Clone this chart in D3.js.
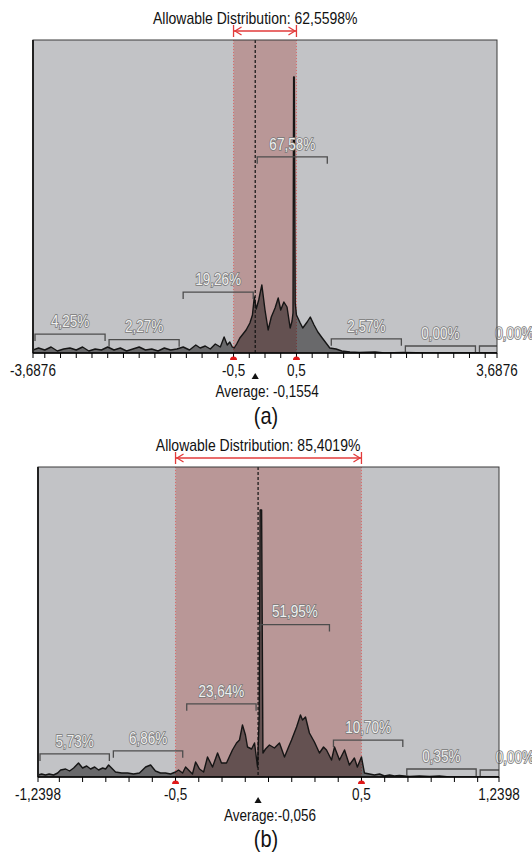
<!DOCTYPE html>
<meta charset="utf-8">
<style>
body {margin: 0; background: #fff;}
svg text {font-family: "Liberation Sans", Arial, sans-serif; fill: #111;}
.binlabel {fill: #efefef; stroke: #777; stroke-width: 1.4px; paint-order: stroke;}
</style>
<html>
<body>
<script src="https://d3js.org/d3.v7.min.js"></script>
<script>
var width = 532,
    height = 852;

// ---- panel (a) data ----
var allowA = "62,5598%";
var rangeA = [-3.6876, 3.6876];
var avgA = -0.1554;
var avgLabelA = "Average: -0,1554";
var limitsA = [-0.5, 0.5];
var tickValsA = [-3.6876, -0.5, 0.5, 3.6876];
var tickLabelsA = ["-3,6876", "-0,5", "0,5", "3,6876"];
var binPctA = [4.25, 2.27, 19.26, 67.58, 2.57, 0.00, 0.00];
var histXA = [-3.6876, -3.6, -3.5, -3.4, -3.3, -3.2, -3.1, -3.0, -2.9, -2.8,
  -2.7, -2.6, -2.5, -2.4, -2.3, -2.2, -2.1, -2.0, -1.9, -1.8,
  -1.7, -1.6, -1.5, -1.4, -1.3, -1.2, -1.1, -1.03, -0.95, -0.87,
  -0.79, -0.71, -0.65, -0.6, -0.56, -0.52, -0.49, -0.45, -0.4, -0.35,
  -0.3, -0.24, -0.2, -0.17, -0.14, -0.1, -0.05, 0, 0.05, 0.1,
  0.16, 0.21, 0.25, 0.3, 0.35, 0.4, 0.43, 0.445, 0.455, 0.465,
  0.48, 0.5, 0.56, 0.6, 0.67, 0.72, 0.78, 0.84, 0.91, 0.97,
  1.03, 1.13, 1.22, 1.35, 1.5, 1.75, 1.9, 2.2, 2.6, 3.0, 3.6876];
var histYA = [3, 5, 3, 6, 2, 4, 5, 3, 6, 2,
  4, 3, 6, 3, 5, 2, 4, 6, 3, 4,
  2, 5, 3, 4, 6, 3, 8, 5, 7, 4,
  9, 6, 16, 8, 11, 6, 5, 9, 15, 19,
  23, 30, 38, 56, 44, 53, 68, 43, 23, 36,
  45, 55, 43, 51, 46, 25, 32, 40, 276, 276,
  50, 38, 30, 25, 31, 36, 28, 21, 15, 10,
  5, 4, 2, 1, 0.5, 1, 0, 0.5, 0, 0, 0];

// ---- panel (b) data ----
var allowB = "85,4019%";
var rangeB = [-1.2398, 1.2398];
var avgB = -0.056;
var avgLabelB = "Average:-0,056";
var limitsB = [-0.5, 0.5];
var tickValsB = [-1.2398, -0.5, 0.5, 1.2398];
var tickLabelsB = ["-1,2398", "-0,5", "0,5", "1,2398"];
var binPctB = [5.73, 6.86, 23.64, 51.95, 10.70, 0.35, 0.00];
var histXB = [-1.2398, -1.22, -1.2, -1.18, -1.156, -1.134, -1.118, -1.091, -1.07, -1.048,
  -1.022, -1.0, -0.978, -0.957, -0.935, -0.914, -0.892, -0.876, -0.86, -0.844,
  -0.823, -0.79, -0.758, -0.726, -0.694, -0.661, -0.634, -0.608, -0.581, -0.554,
  -0.527, -0.5, -0.484, -0.462, -0.446, -0.425, -0.409, -0.392, -0.371, -0.349,
  -0.328, -0.301, -0.274, -0.253, -0.226, -0.194, -0.172, -0.156, -0.14, -0.124,
  -0.113, -0.091, -0.075, -0.059, -0.05, -0.045, -0.037, -0.03, -0.016, 0.005,
  0.032, 0.059, 0.086, 0.108, 0.124, 0.151, 0.172, 0.183, 0.199, 0.22,
  0.247, 0.274, 0.296, 0.312, 0.339, 0.355, 0.382, 0.409, 0.435, 0.462,
  0.478, 0.5, 0.516, 0.543, 0.57, 0.597, 0.624, 0.651, 0.677, 0.704,
  0.758, 0.812, 0.866, 0.919, 0.973, 1.2398];
var histYB = [2, 3, 2, 3, 2, 4, 7, 8, 6, 9,
  14, 9, 11, 8, 10, 7, 9, 8, 12, 9,
  5, 4, 4, 3, 4, 10, 12, 6, 4, 4,
  3, 5, 7, 4, 10, 6, 3, 15, 8, 5,
  20, 10, 24, 14, 14, 27, 34, 37, 52, 42,
  30, 28, 34, 10, 60, 267, 267, 24, 28, 32,
  29, 34, 20, 30, 37, 50, 62, 57, 60, 44,
  35, 24, 30, 27, 17, 30, 17, 27, 12, 19,
  10, 20, 4, 3, 2, 3, 1, 2, 1, 1.5,
  0.5, 1, 0.5, 1, 0, 0];

var svg = d3.select("body").append("svg")
    .attr("width", width)
    .attr("height", height);

var fmtPct = function(v) { return d3.format(".2f")(v).replace(".", ",") + "%"; };

// text is slightly stretched vertically in the original screenshot
function txt(g, x, y, s, size, cls) {
  return g.append("text")
      .attr("class", cls || null)
      .attr("transform", "translate(" + x + "," + y + ") scale(1,1.2)")
      .attr("text-anchor", "middle")
      .attr("dy", "0.36em")
      .style("font-size", size + "px")
      .text(s);
}

function drawPanel(p) {
  var g = svg.append("g");
  var x = d3.scaleLinear().domain(p.range).range([p.left, p.right]);
  var y = d3.scaleLinear().domain([0, p.base - p.top]).range([p.base, p.top]);
  var pctY = d3.scaleLinear().domain([0, 100]).range([p.base - 7, p.base - 287]);

  g.append("clipPath").attr("id", p.id)
    .append("rect")
      .attr("x", p.left).attr("y", p.top)
      .attr("width", p.right - p.left).attr("height", p.base - p.top);

  // background + allowable band
  g.append("rect")
      .attr("x", p.left).attr("y", p.top)
      .attr("width", p.right - p.left).attr("height", p.base - p.top)
      .attr("fill", "#c2c3c6");
  g.append("rect")
      .attr("x", x(p.limits[0])).attr("y", p.top)
      .attr("width", x(p.limits[1]) - x(p.limits[0])).attr("height", p.base - p.top)
      .attr("fill", "#b99797");
  g.selectAll(".edge").data(p.limits).enter().append("line")
      .attr("x1", function(d) { return x(d); }).attr("x2", function(d) { return x(d); })
      .attr("y1", p.top).attr("y2", p.base)
      .attr("stroke", "#d96a6a").attr("stroke-width", 1)
      .attr("stroke-dasharray", "1,2");

  // histogram
  var pts = p.histX.map(function(v, i) { return [v, p.histY[i]]; });
  var hg = g.append("g").attr("clip-path", "url(#" + p.id + ")");
  hg.append("path")
      .attr("d", d3.area().x(function(d) { return x(d[0]); }).y0(p.base).y1(function(d) { return y(d[1]); })(pts))
      .attr("fill", "#000").attr("fill-opacity", 0.46);
  hg.append("path")
      .attr("d", d3.line().x(function(d) { return x(d[0]); }).y(function(d) { return y(d[1]); })(pts))
      .attr("fill", "none").attr("stroke", "#151515").attr("stroke-width", 1.4)
      .attr("stroke-linejoin", "round");

  // average line
  g.append("line")
      .attr("x1", x(p.avg)).attr("x2", x(p.avg))
      .attr("y1", p.top).attr("y2", p.base)
      .attr("stroke", "#111").attr("stroke-width", 1.2)
      .attr("stroke-dasharray", "3,2");

  // percentage brackets, one per std step from the average
  var step = (p.avg - p.range[0]) / 3;
  var bins = p.binPct.map(function(v, i) {
    return {pct: v, a: p.avg + (i - 3) * step, b: p.avg + (i - 2) * step};
  });
  var bg = g.append("g").attr("clip-path", "url(#" + p.id + ")");
  bins.forEach(function(d) {
    var x0 = x(d.a) + 2, x1 = x(d.b) - 2, yy = pctY(d.pct);
    bg.append("path")
        .attr("d", "M" + x0 + "," + (yy + 7) + "V" + yy + "H" + x1 + "V" + (yy + 7))
        .attr("fill", "none").attr("stroke", "#4d4d4d").attr("stroke-width", 1.3);
  });
  bins.forEach(function(d) {
    txt(g, (x(d.a) + x(d.b)) / 2, pctY(d.pct) - 13, fmtPct(d.pct), 13.5, "binlabel");
  });

  // frame
  g.append("rect")
      .attr("x", p.left).attr("y", p.top)
      .attr("width", p.right - p.left).attr("height", p.base - p.top)
      .attr("fill", "none").attr("stroke", "#3a3a3a").attr("stroke-width", 1);
  g.append("line")
      .attr("x1", p.left).attr("x2", p.left).attr("y1", p.top).attr("y2", p.base)
      .attr("stroke", "#222").attr("stroke-width", 2);

  // axis
  var ticks = d3.range(Math.ceil(p.range[0] / p.tickStep) * p.tickStep, p.range[1], p.tickStep)
      .concat(p.range);
  g.append("line")
      .attr("x1", p.left).attr("x2", p.right).attr("y1", p.base).attr("y2", p.base)
      .attr("stroke", "#000").attr("stroke-width", 1.5);
  g.selectAll(".tk").data(ticks).enter().append("line")
      .attr("x1", function(d) { return x(d); }).attr("x2", function(d) { return x(d); })
      .attr("y1", p.base).attr("y2", p.base + 5)
      .attr("stroke", "#000").attr("stroke-width", 1);
  p.tickVals.forEach(function(v, i) {
    txt(g, x(v), p.base + 17, p.tickLabels[i], 13.5);
  });
  p.limits.forEach(function(v) {
    g.append("path")
        .attr("transform", "translate(" + x(v) + "," + (p.base + 5) + ")")
        .attr("d", "M-3.5,2 A3.5,3.5 0 0 1 3.5,2 Z")
        .attr("fill", "#e01818");
  });
  g.append("path")
      .attr("transform", "translate(" + x(p.avg) + "," + (p.base + 24) + ")")
      .attr("d", d3.symbol(d3.symbolTriangle, 22)())
      .attr("fill", "#111");
  txt(g, x(p.avg) + 12, p.base + 38, p.avgLabel, 13.5);
  txt(g, 266, p.base + p.letterDy, p.letter, 20);

  // title + allowable arrow
  txt(g, x(p.avg), p.top - 22, "Allowable Distribution: " + p.allow, 14);
  var ay = p.top - 9, ax0 = x(p.limits[0]), ax1 = x(p.limits[1]);
  var red = "#e23b3b";
  g.append("line").attr("x1", ax0).attr("x2", ax1).attr("y1", ay).attr("y2", ay)
      .attr("stroke", red).attr("stroke-width", 1.3);
  g.append("path")
      .attr("d", "M" + ax0 + "," + (ay - 6) + "V" + (ay + 6) + "M" + ax1 + "," + (ay - 6) + "V" + (ay + 6) +
                 "M" + (ax0 + 8) + "," + (ay - 4) + "L" + (ax0 + 1.5) + "," + ay + "L" + (ax0 + 8) + "," + (ay + 4) +
                 "M" + (ax1 - 8) + "," + (ay - 4) + "L" + (ax1 - 1.5) + "," + ay + "L" + (ax1 - 8) + "," + (ay + 4))
      .attr("fill", "none").attr("stroke", red).attr("stroke-width", 1.3);
}

drawPanel({
  id: "clipA", letter: "(a)", letterDy: 62, left: 33, right: 497, top: 40, base: 353,
  range: rangeA, avg: avgA, avgLabel: avgLabelA, limits: limitsA, allow: allowA,
  tickVals: tickValsA, tickLabels: tickLabelsA, tickStep: 0.25,
  binPct: binPctA, histX: histXA, histY: histYA
});
drawPanel({
  id: "clipB", letter: "(b)", letterDy: 61, left: 38, right: 499, top: 467, base: 777,
  range: rangeB, avg: avgB, avgLabel: avgLabelB, limits: limitsB, allow: allowB,
  tickVals: tickValsB, tickLabels: tickLabelsB, tickStep: 0.125,
  binPct: binPctB, histX: histXB, histY: histYB
});
</script>
</body>
</html>
